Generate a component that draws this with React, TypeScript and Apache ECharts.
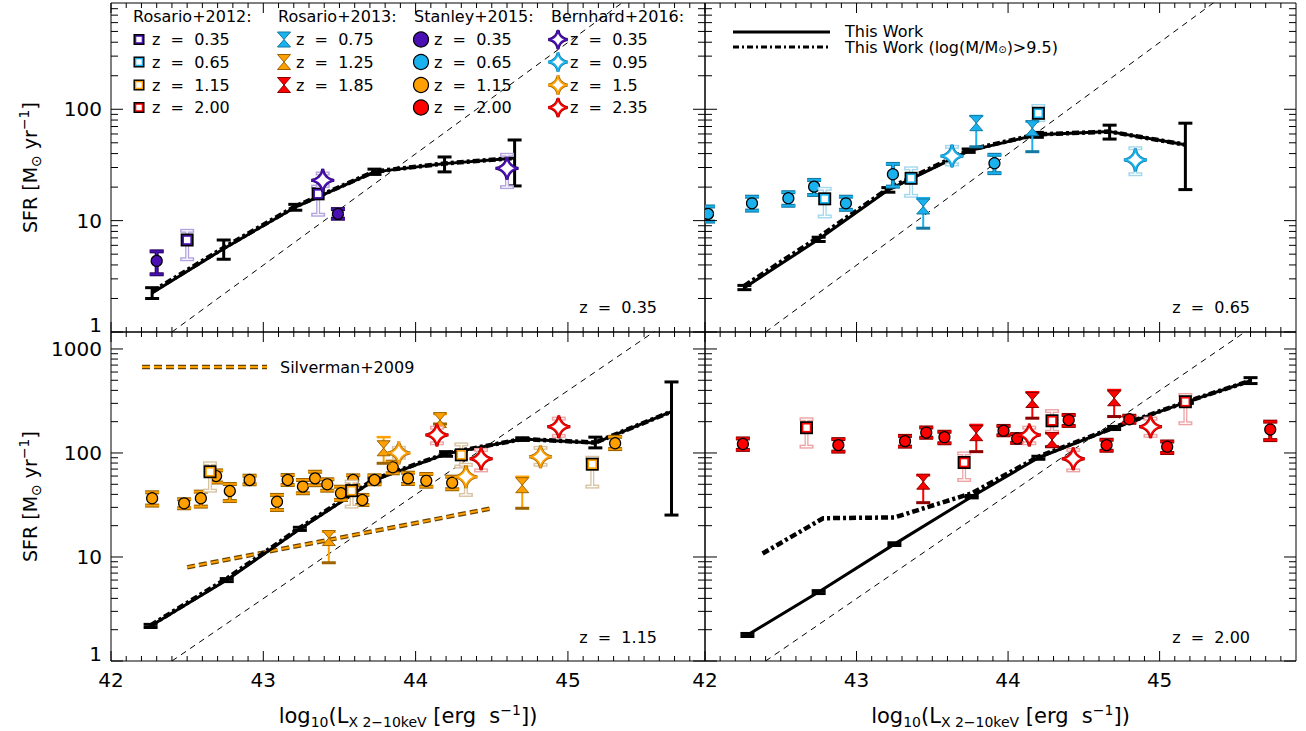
import React, { useEffect, useRef } from 'react';
import * as echarts from 'echarts';

const FONT = 'DejaVu Sans';

// ---------- axes ----------
const X_MIN = 42;
const X_MAX = 45.9;
const Y_MIN = 1;
const Y_MAX_TOP = 900;
const Y_MAX_BOTTOM = 1456;
const X_MAJOR_TICKS = [42, 43, 44, 45];
const Y_DECADES = [1, 10, 100, 1000];
const Y_MINOR_MULTIPLIERS = [2, 3, 4, 5, 6, 7, 8, 9];

// reference dashed line [log Lx, SFR]
const REFERENCE_LINE = [[42.4, 1], [45.9, 3162]];

// ---------- This Work: [log Lx, SFR, low, high] ----------
const THIS_WORK_Z035 = [[42.27, 2.24, 2.0, 2.5], [42.74, 5.6, 4.5, 6.7], [43.21, 13.2, 12.4, 14.0], [43.73, 27.4, 26, 29], [44.19, 32.5, 27.4, 37.3], [44.65, 36.5, 20.5, 53]];
const THIS_WORK_Z065 = [[42.26, 2.5, 2.4, 2.62], [42.75, 6.8, 6.5, 7.1], [43.21, 18.9, 18, 19.8], [43.74, 42.3, 41, 44], [44.19, 59, 56, 62], [44.67, 63, 54, 72], [45.17, 48, 19, 75]];
const THIS_WORK_Z115 = [[42.26, 2.17, 2.1, 2.25], [42.76, 6.0, 5.8, 6.2], [43.24, 18.6, 18, 19.3], [43.73, 55, 53, 57], [44.2, 98, 93, 103], [44.7, 136, 132, 140], [45.18, 125, 112, 142], [45.68, 250, 25.3, 482]];
const THIS_WORK_Z200 = [[42.28, 1.78, 1.72, 1.84], [42.75, 4.6, 4.45, 4.75], [43.25, 13.3, 12.9, 13.7], [43.76, 38, 37, 39], [44.2, 90, 87, 93], [44.7, 174, 168, 180], [45.18, 310, 300, 320], [45.6, 495, 465, 530]];

// This Work, log(M/Msun) > 9.5: [log Lx, SFR]
const MASS_CUT_Z035 = [[42.27, 2.3], [42.74, 5.7], [43.21, 13.4], [43.73, 27.6], [44.19, 32.6], [44.65, 36.5]];
const MASS_CUT_Z065 = [[42.26, 2.6], [42.75, 7.1], [43.21, 19.4], [43.74, 43], [44.19, 59.5], [44.67, 63], [45.17, 48]];
const MASS_CUT_Z115 = [[42.26, 2.2], [42.76, 6.2], [43.24, 19], [43.73, 56], [44.2, 99], [44.7, 136], [45.18, 126], [45.68, 250]];
const MASS_CUT_Z200 = [[42.38, 10.8], [42.78, 23.6], [43.25, 24], [43.76, 41], [44.2, 92], [44.7, 176], [45.18, 312], [45.6, 495]];

// ---------- literature: [log Lx, SFR, low, high] ----------
const STANLEY_Z035 = [[42.30, 4.35, 3.3, 5.3], [43.49, 11.5, 10.4, 12.7]];
const ROSARIO12_Z035 = [[42.50, 6.7, 4.5, 8.1], [43.36, 17.4, 11.3, 20.2]];
const BERNHARD_Z035 = [[43.39, 23, 20.5, 26.5], [44.60, 29.5, 20, 39]];

const STANLEY_Z065 = [[42.02, 11.5, 9.8, 13.4], [42.31, 14.3, 12.3, 16.4], [42.55, 15.9, 13.6, 18], [42.72, 20.2, 17, 23.2], [42.93, 14.3, 12.5, 16.4], [43.24, 26.1, 20.2, 32.3], [43.91, 32.8, 26.7, 39]];
const ROSARIO12_Z065 = [[42.79, 15.7, 10.9, 19.3], [43.36, 24, 16.7, 29.5], [44.20, 92, 80, 107]];
const ROSARIO13_Z075 = [[43.44, 13.4, 8.55, 15.9], [43.79, 75, 46, 87], [44.16, 67.6, 41.6, 77.5]];
const BERNHARD_Z095 = [[43.63, 38, 32, 46], [44.84, 35.1, 26.1, 44.7]];

const STANLEY_Z115 = [[42.27, 36.7, 31.2, 41.9], [42.48, 32.8, 29.4, 35.9], [42.59, 36.7, 30.5, 42.5], [42.69, 60, 52, 68], [42.78, 43.1, 34.5, 50.3], [42.91, 55, 50, 60.5], [43.09, 34, 28.3, 39.5], [43.16, 55, 49.2, 61.4], [43.26, 47.5, 41, 55], [43.34, 57, 49, 66], [43.42, 50, 43.4, 55.9], [43.51, 41, 35.3, 47.4], [43.59, 55, 49, 61], [43.65, 35.3, 31.6, 39.5], [43.73, 55, 50, 61], [43.85, 72.8, 63.8, 82.5], [43.95, 57, 50.3, 64.6], [44.07, 54, 47.4, 62.8], [44.24, 51.8, 44.8, 59.2], [45.31, 124, 109, 143]];
const ROSARIO12_Z115 = [[42.65, 66, 43.4, 79.6], [43.58, 43.4, 30.5, 53], [44.30, 96, 74, 121], [45.16, 78, 47.5, 90]];
const ROSARIO13_Z125 = [[43.43, 15.2, 8.8, 17.5], [43.79, 111, 79.6, 142], [44.16, 207, 190, 237], [44.70, 49, 29.4, 59]];
const BERNHARD_Z150 = [[43.89, 100, 90, 112], [44.33, 59, 39.5, 77], [44.82, 92, 77, 112]];
const BERNHARD_Z235 = [[44.14, 149, 124, 175], [44.43, 88, 68, 107], [44.94, 179, 146, 214]];

const STANLEY_Z200 = [[42.25, 122, 107, 138], [42.88, 119, 103, 136], [43.32, 130, 115, 146], [43.46, 157, 140, 176], [43.58, 142, 124, 160], [43.97, 164, 148, 182], [44.06, 138, 125, 152], [44.40, 207, 182, 232], [44.65, 119, 105, 134], [44.80, 211, 195, 228], [45.05, 115, 100, 129], [45.73, 168, 133, 200]];
const ROSARIO12_Z200 = [[42.67, 175, 115, 211], [43.71, 81, 55, 99], [44.29, 204, 160, 253], [45.17, 311, 193, 361]];
const ROSARIO13_Z185 = [[43.44, 53, 33.3, 61], [43.79, 155, 103, 186], [44.16, 323, 216, 384], [44.29, 133, 115, 155], [44.70, 336, 224, 403]];

// Silverman+2009 relation at z = 1.15: [log Lx, SFR]
const SILVERMAN_2009 = [[42.5, 7.95], [44.5, 29.4]];

// ---------- texts ----------
const PANEL_LABELS = ['z  =  0.35', 'z  =  0.65', 'z  =  1.15', 'z  =  2.00'];
const LEGEND_HEADERS = ['Rosario+2012:', 'Rosario+2013:', 'Stanley+2015:', 'Bernhard+2016:'];
const LEGEND_R12 = ['z  =  0.35', 'z  =  0.65', 'z  =  1.15', 'z  =  2.00'];
const LEGEND_R13 = ['z  =  0.75', 'z  =  1.25', 'z  =  1.85'];
const LEGEND_S15 = ['z  =  0.35', 'z  =  0.65', 'z  =  1.15', 'z  =  2.00'];
const LEGEND_B16 = ['z  =  0.35', 'z  =  0.95', 'z  =  1.5', 'z  =  2.35'];
const THIS_WORK_LABEL = 'This Work';
const MASS_CUT_LABEL = 'This Work (log(M/M{sub|⊙})>9.5)';
const SILVERMAN_LABEL = 'Silverman+2009';
const X_TITLE = 'log{sub|10}(L{sub|X 2−10keV} [erg  s{sup|−1}])';
const Y_TITLE = 'SFR [M{sub|⊙} yr{sup|−1}]';

type Pal = { main: string; dark: string; tint: string };
const PAL_035: Pal = { main: '#4a10b4', dark: '#26065e', tint: '#b3a3df' };
const PAL_065: Pal = { main: '#1ab2ee', dark: '#1378a3', tint: '#a3d8ec' };
const PAL_115: Pal = { main: '#ffa000', dark: '#9c6400', tint: '#d8c3a3' };
const PAL_200: Pal = { main: '#ff0000', dark: '#8c0000', tint: '#eea4a4' };
const PAL_BLACK: Pal = { main: '#000', dark: '#000', tint: '#000' };

const GRIDS = [
  { left: 111, top: 3, width: 594, height: 329 },
  { left: 705, top: 3, width: 591, height: 329 },
  { left: 111, top: 332, width: 594, height: 329 },
  { left: 705, top: 332, width: 591, height: 329 },
];
const Y_MAXES = [Y_MAX_TOP, Y_MAX_TOP, Y_MAX_BOTTOM, Y_MAX_BOTTOM];

const seg = (x1: number, y1: number, x2: number, y2: number, stroke: string, lineWidth: number, extra: any = {}) => ({
  type: 'line',
  shape: { x1, y1, x2, y2 },
  style: { stroke, lineWidth, ...extra },
});

function starPts(cx: number, cy: number, R: number) {
  const pts: number[][] = [];
  const n = 64;
  const e = 3.4;
  for (let i = 0; i < n; i++) {
    const t = (i / n) * Math.PI * 2;
    const c = Math.cos(t);
    const s = Math.sin(t);
    pts.push([cx + R * Math.sign(c) * Math.pow(Math.abs(c), e), cy + R * Math.sign(s) * Math.pow(Math.abs(s), e)]);
  }
  return pts;
}

const sq = (x: number, y: number, h: number, fill: string) => ({
  type: 'rect',
  shape: { x: x - h, y: y - h, width: 2 * h, height: 2 * h },
  style: { fill },
});

function markerEls(kind: string, x: number, y: number, pal: Pal, s = 1): any[] {
  if (kind === 'sq') return [sq(x, y, 6.5 * s, '#000'), sq(x, y, 4.8 * s, pal.main), sq(x, y, 3.2 * s, '#fff')];
  if (kind === 'ci') return [{ type: 'circle', shape: { cx: x, cy: y, r: 5.5 * s }, style: { fill: pal.main, stroke: '#000', lineWidth: 1.2 } }];
  if (kind === 'hg') {
    const w = 6.5 * s;
    const h = 7.5 * s;
    return [{ type: 'polygon', shape: { points: [[x - w, y - h], [x + w, y - h], [x, y], [x + w, y + h], [x - w, y + h], [x, y]] }, style: { fill: pal.main, stroke: pal.dark, lineWidth: 1 } }];
  }
  if (kind === 'st') {
    const pts = starPts(x, y, 11.5 * s);
    return [
      { type: 'polygon', shape: { points: pts }, style: { fill: '#fff', stroke: pal.dark, lineWidth: 3.2 } },
      { type: 'polygon', shape: { points: pts }, style: { fill: '#fff', stroke: pal.main, lineWidth: 1.8 } },
    ];
  }
  return [];
}

function errEls(kind: string, x: number, yl: number, yh: number, pal: Pal): any[] {
  const c = 7;
  const parts = [[x, yl, x, yh], [x - c, yl, x + c, yl], [x - c, yh, x + c, yh]];
  if (kind === 'tw') return parts.map((p) => seg(p[0], p[1], p[2], p[3], '#000', 3));
  if (kind === 'sq' || kind === 'st') {
    return [
      ...parts.map((p) => seg(p[0], p[1], p[2], p[3], pal.tint, 4)),
      seg(x, yl, x, yh, '#fff', 1.4),
      seg(x - c + 1.5, yl, x + c - 1.5, yl, '#fff', 1.2),
      seg(x - c + 1.5, yh, x + c - 1.5, yh, '#fff', 1.2),
    ];
  }
  if (kind === 'ci') {
    return [
      ...parts.map((p) => seg(p[0], p[1], p[2], p[3], pal.dark, 4)),
      ...parts.map((p) => seg(p[0], p[1], p[2], p[3], pal.main, 1.8)),
    ];
  }
  // hourglass
  return [
    seg(x, yl, x, yh, pal.main, 2),
    seg(x - c, yl, x + c, yl, pal.dark, 3),
    seg(x - c, yh, x + c, yh, pal.main, 2.5),
  ];
}

function pointSeries(gi: number, data: number[][], kind: string, pal: Pal, z = 6): any {
  return {
    type: 'custom',
    xAxisIndex: gi,
    yAxisIndex: gi,
    clip: true,
    silent: true,
    z,
    encode: { x: 0, y: 1 },
    data,
    renderItem: (_p: any, api: any) => {
      const x = api.value(0);
      const p = api.coord([x, api.value(1)]);
      const pl = api.coord([x, api.value(2)]);
      const ph = api.coord([x, api.value(3)]);
      const children = [...errEls(kind, p[0], pl[1], ph[1], pal)];
      if (kind !== 'tw') children.push(...markerEls(kind, p[0], p[1], pal));
      return { type: 'group', children };
    },
  };
}

function tickSeries(gi: number, ymax: number): any {
  const data: number[][] = [];
  X_MAJOR_TICKS.forEach((v) => data.push([v, Y_MIN, 0]));
  for (let a = 42; a < 46; a++) {
    for (let j = 1; j < 10; j++) {
      const v = +(a + j / 10).toFixed(1);
      if (v < X_MAX) data.push([v, Y_MIN, 1]);
    }
  }
  Y_DECADES.forEach((d) => {
    if (d <= ymax) data.push([X_MIN, d, 2]);
    Y_MINOR_MULTIPLIERS.forEach((m) => {
      if (m * d < ymax) data.push([X_MIN, m * d, 3]);
    });
  });
  return {
    type: 'custom',
    xAxisIndex: gi,
    yAxisIndex: gi,
    clip: false,
    silent: true,
    z: 30,
    encode: { x: 0, y: 1 },
    data,
    renderItem: (_p: any, api: any) => {
      const k = api.value(2);
      if (k <= 1) {
        const xv = api.value(0);
        const b = api.coord([xv, Y_MIN]);
        const t = api.coord([xv, ymax]);
        const L = k === 0 ? 10 : 5;
        return { type: 'group', children: [seg(b[0], b[1], b[0], b[1] - L, '#000', 1), seg(t[0], t[1], t[0], t[1] + L, '#000', 1)] };
      }
      const yv = api.value(1);
      const l = api.coord([X_MIN, yv]);
      const r = api.coord([X_MAX, yv]);
      const L = k === 2 ? 12 : 7;
      return { type: 'group', children: [seg(l[0], l[1], l[0] + L, l[1], '#000', 1), seg(r[0], r[1], r[0] - L, r[1], '#000', 1)] };
    },
  };
}

const lineSeries = (gi: number, data: number[][], color: string, width: number, type: any, z: number) => ({
  type: 'line',
  xAxisIndex: gi,
  yAxisIndex: gi,
  data,
  symbol: 'none',
  silent: true,
  clip: true,
  z,
  lineStyle: { color, width, type },
});

const richStyles = {
  sub: { fontSize: 14, fontFamily: FONT, color: '#000', verticalAlign: 'bottom', lineHeight: 15 },
  sup: { fontSize: 14, fontFamily: FONT, color: '#000', verticalAlign: 'top', lineHeight: 15 },
};

function buildOption(): any {
  const series: any[] = [];
  const tw = [THIS_WORK_Z035, THIS_WORK_Z065, THIS_WORK_Z115, THIS_WORK_Z200];
  const mc = [MASS_CUT_Z035, MASS_CUT_Z065, MASS_CUT_Z115, MASS_CUT_Z200];
  for (let gi = 0; gi < 4; gi++) {
    series.push(lineSeries(gi, REFERENCE_LINE, '#000', 1, [6, 5], 1));
    series.push(lineSeries(gi, tw[gi].map((d) => [d[0], d[1]]), '#000', 3, 'solid', 3));
    series.push(lineSeries(gi, mc[gi], '#000', 4.5, [7, 3, 3, 3], 3));
    series.push(pointSeries(gi, tw[gi], 'tw', PAL_BLACK, 4));
    series.push(tickSeries(gi, Y_MAXES[gi]));
  }
  // Silverman
  series.push(lineSeries(2, SILVERMAN_2009, '#6b4300', 4.5, [8, 4], 2));
  series.push(lineSeries(2, SILVERMAN_2009, '#ffa000', 2, [8, 4], 2));

  // z = 0.35
  series.push(pointSeries(0, STANLEY_Z035, 'ci', PAL_035));
  series.push(pointSeries(0, ROSARIO12_Z035, 'sq', PAL_035));
  series.push(pointSeries(0, BERNHARD_Z035, 'st', PAL_035));
  // z = 0.65
  series.push(pointSeries(1, STANLEY_Z065, 'ci', PAL_065));
  series.push(pointSeries(1, ROSARIO12_Z065, 'sq', PAL_065));
  series.push(pointSeries(1, ROSARIO13_Z075, 'hg', PAL_065));
  series.push(pointSeries(1, BERNHARD_Z095, 'st', PAL_065));
  // z = 1.15
  series.push(pointSeries(2, STANLEY_Z115, 'ci', PAL_115));
  series.push(pointSeries(2, ROSARIO12_Z115, 'sq', PAL_115));
  series.push(pointSeries(2, ROSARIO13_Z125, 'hg', PAL_115));
  series.push(pointSeries(2, BERNHARD_Z150, 'st', PAL_115));
  series.push(pointSeries(2, BERNHARD_Z235, 'st', PAL_200));
  // z = 2.00
  series.push(pointSeries(3, STANLEY_Z200, 'ci', PAL_200));
  series.push(pointSeries(3, ROSARIO12_Z200, 'sq', PAL_200));
  series.push(pointSeries(3, ROSARIO13_Z185, 'hg', PAL_200));
  series.push(pointSeries(3, BERNHARD_Z235, 'st', PAL_200));

  const labelBase = { color: '#000', fontSize: 20, fontFamily: FONT };
  const xAxis = GRIDS.map((_, i) => ({
    type: 'value',
    gridIndex: i,
    min: X_MIN,
    max: X_MAX,
    interval: 1,
    axisLine: { show: false },
    axisTick: { show: false },
    splitLine: { show: false },
    axisLabel: {
      show: i >= 2,
      ...labelBase,
      margin: 9,
      formatter: (v: number) => (Math.abs(v - Math.round(v)) < 1e-6 ? String(Math.round(v)) : ''),
    },
    name: i >= 2 ? X_TITLE : '',
    nameLocation: 'middle',
    nameGap: 42,
    nameTextStyle: { fontSize: 21, fontFamily: FONT, color: '#000', lineHeight: 26, rich: richStyles },
  }));

  const yAxis = GRIDS.map((_, i) => ({
    type: 'log',
    logBase: 10,
    gridIndex: i,
    min: Y_MIN,
    max: Y_MAXES[i],
    axisLine: { show: false },
    axisTick: { show: false },
    splitLine: { show: false },
    minorTick: { show: false },
    axisLabel: {
      show: i % 2 === 0,
      ...labelBase,
      margin: 9,
      formatter: (v: number) => {
        const e = Math.log10(v);
        if (Math.abs(e) < 1e-6) return '{lo|1}';
        return Math.abs(e - Math.round(e)) < 1e-6 ? String(Math.round(v)) : '';
      },
      rich: { lo: { ...labelBase, padding: [0, 0, 14, 0] } },
    },
    name: i % 2 === 0 ? Y_TITLE : '',
    nameLocation: 'middle',
    nameGap: 68,
    nameRotate: 90,
    nameTextStyle: { fontSize: 19, fontFamily: FONT, color: '#000', lineHeight: 26, rich: richStyles },
  }));

  // ----- graphic legend / labels -----
  const g: any[] = [];
  const txt = (x: number, y: number, text: string, align = 'left', size = 16, rich?: any, lineHeight?: number) => ({
    type: 'text',
    x,
    y,
    z: 100,
    silent: true,
    style: { text, fill: '#000', fontSize: size, fontFamily: FONT, align, verticalAlign: 'middle', rich, lineHeight },
  });
  const colX = [[133, 139, 152], [278, 284, 296], [414, 421, 434], [551, 558, 570]];
  const rowY = [39.5, 62, 85, 107.5];
  LEGEND_HEADERS.forEach((h, i) => g.push(txt(colX[i][0], 16, h)));
  const pals = [PAL_035, PAL_065, PAL_115, PAL_200];
  const legendCols: [string[], string, Pal[], number][] = [
    [LEGEND_R12, 'sq', pals, 0.85],
    [LEGEND_R13, 'hg', [PAL_065, PAL_115, PAL_200], 1],
    [LEGEND_S15, 'ci', pals, 1.36],
    [LEGEND_B16, 'st', pals, 0.85],
  ];
  legendCols.forEach(([labels, kind, ps, sc], ci) => {
    labels.forEach((lab, ri) => {
      markerEls(kind, colX[ci][1], rowY[ri], ps[ri], sc).forEach((el) => g.push({ ...el, z: 100, silent: true }));
      g.push(txt(colX[ci][2], rowY[ri], lab));
    });
  });
  // This Work legend
  g.push({ ...seg(733, 32, 830, 32, '#000', 3), z: 100, silent: true });
  g.push(txt(845, 31, THIS_WORK_LABEL, 'left', 16, undefined, 14));
  g.push({ ...seg(733, 47, 830, 47, '#000', 3, { lineDash: [6, 3, 2, 3] }), z: 100, silent: true });
  g.push(txt(845, 47.5, MASS_CUT_LABEL, 'left', 16, { sub: { fontSize: 10, fontFamily: FONT, fill: '#000', verticalAlign: 'bottom', lineHeight: 10 } }, 14));
  // Silverman legend
  g.push({ ...seg(142, 367, 267, 367, '#6b4300', 4.5, { lineDash: [8, 4] }), z: 100, silent: true });
  g.push({ ...seg(142, 367, 267, 367, '#ffa000', 2, { lineDash: [8, 4] }), z: 100, silent: true });
  g.push(txt(280, 367, SILVERMAN_LABEL));
  // panel labels
  g.push(txt(657, 307, PANEL_LABELS[0], 'right'));
  g.push(txt(1250, 307, PANEL_LABELS[1], 'right'));
  g.push(txt(657, 637, PANEL_LABELS[2], 'right'));
  g.push(txt(1250, 637, PANEL_LABELS[3], 'right'));

  return {
    animation: false,
    backgroundColor: '#fff',
    grid: GRIDS.map((gr) => ({ ...gr, show: true, borderColor: '#000', borderWidth: 1, backgroundColor: 'transparent', containLabel: false })),
    xAxis,
    yAxis,
    series,
    graphic: { elements: g },
  };
}

export default function App() {
  const ref = useRef<HTMLDivElement>(null);
  useEffect(() => {
    const chart = echarts.init(ref.current as HTMLDivElement, null, { renderer: 'svg' });
    chart.setOption(buildOption());
    return () => chart.dispose();
  }, []);
  return <div ref={ref} style={{ position: 'fixed', left: 0, top: 0, width: 1306, height: 731, background: '#fff' }} />;
}
